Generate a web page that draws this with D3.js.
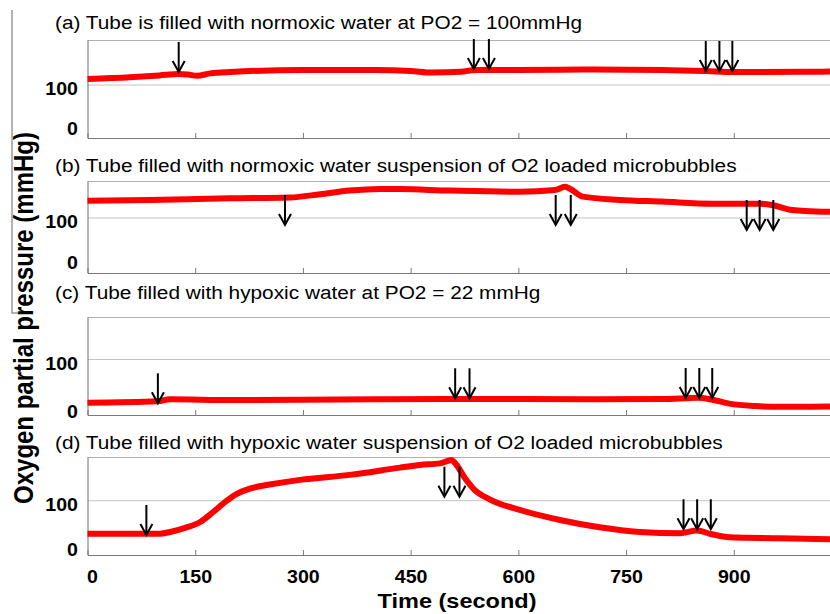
<!DOCTYPE html>
<html>
<head>
<meta charset="utf-8">
<script src="https://cdn.jsdelivr.net/npm/d3@7"></script>
<style>
  body { margin: 0; background: #fff; }
  text { font-family: "Liberation Sans", Arial, sans-serif; fill: #000; }
</style>
</head>
<body>
<div id="chart"></div>
<script>
// panel titles
const titles = [
  "(a) Tube is filled with normoxic water at PO2 = 100mmHg",
  "(b) Tube filled with normoxic water suspension of O2 loaded microbubbles",
  "(c) Tube filled with hypoxic water at PO2 = 22 mmHg",
  "(d) Tube filled with hypoxic water suspension of O2 loaded microbubbles",
];
const xTicks = [0, 150, 300, 450, 600, 750, 900];
const yTicks = [0, 100];
const gridTicks = [100];

// (a) normoxic water
const timeA = [0, 59, 100, 127, 140, 152, 171, 200, 300, 400, 450, 480, 520, 540, 600, 700, 800, 861, 900, 1000, 1034];
const po2A = [115, 119.5, 124, 127.5, 126, 123, 129, 132.5, 137.5, 137.5, 135, 131, 133, 137.5, 137.5, 138.5, 137.5, 135, 132.5, 133, 134];
const arrowTimeA = [127, 538, 559, 861, 880, 898];
const arrowTipA = [132.5, 140, 140, 135, 135, 135];

// (b) normoxic water + O2 microbubbles
const timeB = [0, 87, 198, 282, 324, 365, 407, 435, 505, 602, 651, 665, 673, 690, 741, 800, 870, 936, 955, 978, 1000, 1034];
const po2B = [142, 144, 148, 150, 158, 167, 171, 170.5, 167, 164, 168, 176, 170, 152, 144, 140, 135, 135, 131, 120, 117, 115];
const arrowTimeB = [275, 652, 673, 918, 936, 955];
const arrowTipB = [83, 83, 83, 70.7, 70.7, 70.7];

// (c) hypoxic water
const timeC = [0, 98, 115, 200, 300, 400, 500, 600, 700, 800, 833, 850, 870, 894, 930, 964, 1034];
const po2C = [11, 14, 18, 16.5, 17, 18, 18.5, 18.5, 18, 18.5, 20, 21, 17, 9, 4, 2.5, 3];
const arrowTimeC = [98, 512, 532, 833, 852, 870];
const arrowTipC = [9.7, 20, 20, 20.6, 20.6, 20.6];

// (d) hypoxic water + O2 microbubbles
const timeD = [0, 83, 101, 115, 136, 157, 175, 194, 208, 225, 240, 258, 296, 365, 435, 463, 491, 507, 512, 526, 539, 560, 602, 658, 713, 769, 825, 849, 868, 894, 964, 1034];
const po2D = [27, 27, 27, 31, 40, 53, 75, 100, 115, 126, 132, 137, 146, 157, 173, 179, 182.5, 190, 183, 149, 124, 103, 79.5, 57.4, 41.3, 31, 28, 34, 26.5, 19.2, 17, 14.8];
const arrowTimeD = [82, 497, 518, 830, 849, 868];
const arrowTipD = [24.3, 108.8, 108.8, 36.9, 36.9, 36.9];

const panels = [
  { top: 40, bottom: 138, titleY: 28.5, yDomain: [-32.5, 212.5], time: timeA, po2: po2A, arrowTime: arrowTimeA, arrowTip: arrowTipA },
  { top: 181, bottom: 273, titleY: 171.5, yDomain: [-34.1, 190.2], time: timeB, po2: po2B, arrowTime: arrowTimeB, arrowTip: arrowTipB },
  { top: 317, bottom: 415, titleY: 298.5, yDomain: [-14.4, 187.6], time: timeC, po2: po2C, arrowTime: arrowTimeC, arrowTip: arrowTipC },
  { top: 457, bottom: 555, titleY: 448.5, yDomain: [-19.9, 196.5], time: timeD, po2: po2D, arrowTime: arrowTimeD, arrowTip: arrowTipD },
];

const width = 830, height = 614;
const left = 87.5;
const stretch = 1.12; // the figure's text is slightly wide

const svg = d3.select("#chart").append("svg")
  .attr("width", width)
  .attr("height", height);

const x = d3.scaleLinear().domain([0, 1034]).range([left, width]);

panels.forEach(function (p, i) {
  const y = d3.scaleLinear().domain(p.yDomain).range([p.bottom, p.top]);
  const g = svg.append("g");

  // title
  g.append("text")
    .attr("transform", `translate(55, ${p.titleY}) scale(${stretch}, 1)`)
    .style("font-size", "18.6px")
    .text(titles[i]);

  // gridline at 100
  g.selectAll(".grid")
    .data(gridTicks)
    .join("line")
    .attr("x1", left).attr("x2", width)
    .attr("y1", (d) => y(d)).attr("y2", (d) => y(d))
    .style("stroke", "#c4c4c4").style("stroke-width", 1);

  // top border
  g.append("line")
    .attr("x1", left).attr("x2", width)
    .attr("y1", p.top + 0.5).attr("y2", p.top + 0.5)
    .style("stroke", "#b0b0b0").style("stroke-width", 1);

  // bottom axis
  const xAxis = g.append("g")
    .attr("transform", `translate(0, ${p.bottom})`)
    .call(d3.axisBottom(x).tickValues(xTicks).tickSizeInner(-5).tickSizeOuter(0).tickPadding(15.5));
  xAxis.select(".domain").style("stroke", "#7a7a7a");
  xAxis.selectAll(".tick line").style("stroke", "#7a7a7a");
  if (i < panels.length - 1) {
    xAxis.selectAll(".tick text").remove();
  } else {
    xAxis.selectAll(".tick text")
      .attr("transform", `scale(${stretch}, 1)`)
      .style("font-size", "17.5px")
      .style("font-weight", "bold")
      .style("font-family", '"Liberation Sans", Arial, sans-serif');
    // the "0" label sits a little right of the axis corner in the figure
    xAxis.selectAll(".tick text").filter((d) => d === 0).attr("dx", 4);
  }

  // left axis
  const yAxis = g.append("g")
    .attr("transform", `translate(${left}, 0)`)
    .call(d3.axisLeft(y).tickValues(yTicks).tickSize(0).tickPadding(8.5));
  yAxis.select(".domain").style("stroke", "#6e6e6e");
  yAxis.selectAll(".tick text")
    .attr("dy", "0.55em")
    .attr("transform", `scale(${stretch}, 1)`)
    .style("font-size", "17.5px")
    .style("font-weight", "bold")
    .style("font-family", '"Liberation Sans", Arial, sans-serif');

  // oxygen trace
  const line = d3.line()
    .x((d, j) => x(p.time[j]))
    .y((d) => y(d))
    .curve(d3.curveMonotoneX);
  g.append("path")
    .datum(p.po2)
    .attr("d", line)
    .style("fill", "none")
    .style("stroke", "#ff0000")
    .style("stroke-width", 6)
    .style("stroke-linejoin", "round");

  // arrows marking injections
  const arrows = g.selectAll(".arrow")
    .data(p.arrowTime.map((t, j) => ({ t: t, tip: p.arrowTip[j] })))
    .join("g")
    .attr("transform", (d) => `translate(${x(d.t)}, ${y(d.tip)})`);
  arrows.append("line")
    .attr("x1", 0).attr("x2", 0)
    .attr("y1", -30).attr("y2", -1)
    .style("stroke", "#000").style("stroke-width", 2);
  arrows.append("path")
    .attr("d", "M-6,-11L0,0L6,-11")
    .style("fill", "none")
    .style("stroke", "#000").style("stroke-width", 2);
});

// decorative rule left of the y label
svg.append("path")
  .attr("d", "M12,10V313H20")
  .style("fill", "none")
  .style("stroke", "#9a9a9a")
  .style("stroke-width", 1.5);

// axis titles
svg.append("text")
  .attr("transform", `translate(33, 318) rotate(-90) scale(1, ${stretch})`)
  .attr("text-anchor", "middle")
  .style("font-size", "24px")
  .style("font-weight", "bold")
  .text("Oxygen partial pressure (mmHg)");

svg.append("text")
  .attr("transform", `translate(457, 608) scale(${stretch}, 1)`)
  .attr("text-anchor", "middle")
  .style("font-size", "21px")
  .style("font-weight", "bold")
  .text("Time (second)");
</script>
</body>
</html>
